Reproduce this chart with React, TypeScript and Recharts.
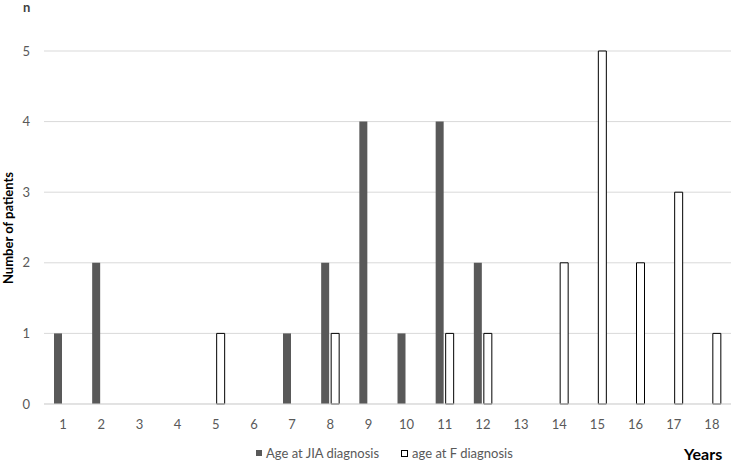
import React from 'react';
import { BarChart, Bar, XAxis, YAxis, CartesianGrid, Legend } from 'recharts';

const years = ['1','2','3','4','5','6','7','8','9','10','11','12','13','14','15','16','17','18'];
const jiaAges = [1,2,0,0,0,0,1,2,4,1,4,2,0,0,0,0,0,0];
const fAges = [0,0,0,0,1,0,0,1,0,0,1,1,0,2,5,2,3,1];
const yTicks = [0,1,2,3,4,5];
const seriesNames = ['Age at JIA diagnosis', 'age at F diagnosis'];

const data = years.map((y, i) => ({ year: y, jia: jiaAges[i] || null, f: fAges[i] || null }));

const FONT = 'Lato, "Open Sans", sans-serif';

const LegendContent = () => (
  <div style={{ display: 'flex', justifyContent: 'flex-start', paddingLeft: 256, paddingTop: 11, fontFamily: FONT, fontSize: 13, color: '#595959' }}>
    <span style={{ display: 'flex', alignItems: 'center', marginRight: 22 }}>
      <span style={{ width: 6, height: 6, background: '#595959', marginRight: 4 }} />
      {seriesNames[0]}
    </span>
    <span style={{ display: 'flex', alignItems: 'center' }}>
      <span style={{ width: 5, height: 5, background: '#fff', border: '1px solid #000', marginRight: 4 }} />
      {seriesNames[1]}
    </span>
  </div>
);

export default function App() {
  return (
    <div style={{ position: 'absolute', left: 0, top: 0, width: 733, height: 463, background: '#fff' }}>
      <BarChart
        width={733}
        height={463}
        data={data}
        margin={{ top: 51, right: 2, bottom: 0, left: 0 }}
        barSize={8}
        barGap={2}
      >
        <CartesianGrid vertical={false} stroke="#d9d9d9" />
        <XAxis
          dataKey="year"
          axisLine={{ stroke: '#d9d9d9' }}
          tickLine={false}
          tick={{ fill: '#595959', fontSize: 13, fontFamily: FONT }}
          tickMargin={10}
          height={30}
          interval={0}
        />
        <YAxis
          width={44}
          domain={[0, 5]}
          ticks={yTicks}
          axisLine={false}
          tickLine={false}
          tickSize={0}
          tickMargin={14}
          tick={{ fill: '#595959', fontSize: 13, fontFamily: FONT }}
        />
        <Legend verticalAlign="bottom" height={29} content={<LegendContent />} />
        <Bar dataKey="jia" name={seriesNames[0]} fill="#595959" isAnimationActive={false} />
        <Bar dataKey="f" name={seriesNames[1]} fill="#ffffff" stroke="#000000" strokeWidth={1} isAnimationActive={false} />
      </BarChart>
      <div style={{ position: 'absolute', left: 23, top: 0, lineHeight: '14px', fontFamily: FONT, fontWeight: 'bold', fontSize: 13, color: '#404040' }}>n</div>
      <div style={{ position: 'absolute', left: 684, top: 444, fontFamily: FONT, fontWeight: 'bold', fontSize: 16, color: '#000' }}>Years</div>
      <div style={{ position: 'absolute', left: 8, top: 228, transform: 'translate(-50%, -50%) rotate(-90deg)', whiteSpace: 'nowrap', fontFamily: FONT, fontWeight: 'bold', fontSize: 13, color: '#000' }}>Number of patients</div>
    </div>
  );
}
